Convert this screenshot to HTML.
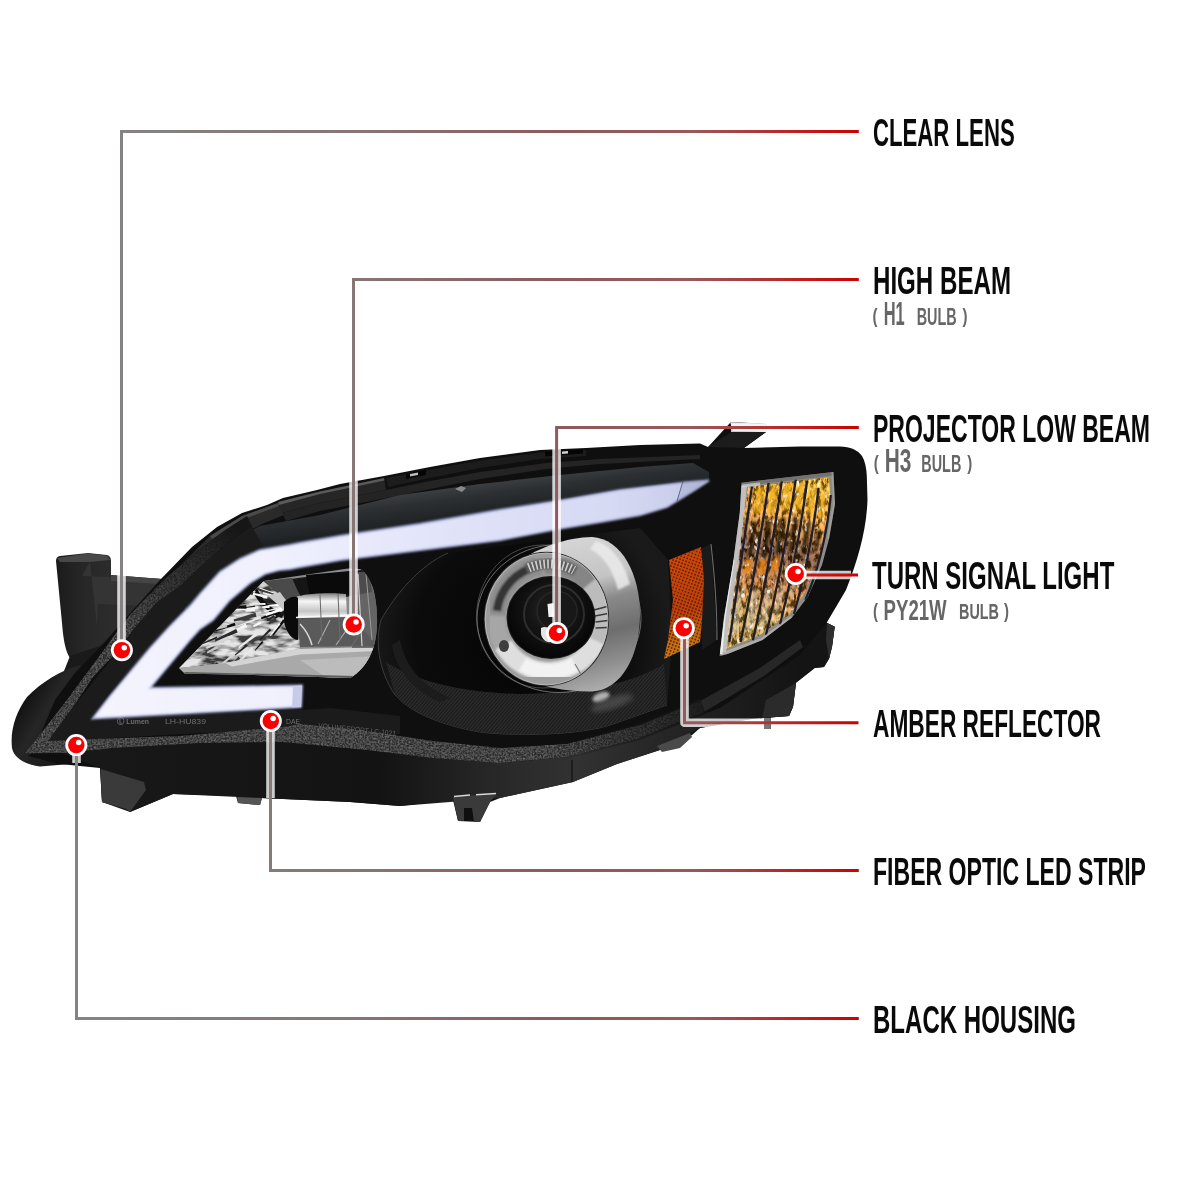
<!DOCTYPE html>
<html><head><meta charset="utf-8">
<style>
html,body{margin:0;padding:0;background:#fff;}
body{width:1200px;height:1200px;overflow:hidden;font-family:"Liberation Sans",sans-serif;}
svg{display:block;}
.t{font-family:"Liberation Sans",sans-serif;font-weight:bold;fill:#0a0a0a;}
.s{font-family:"Liberation Sans",sans-serif;font-weight:bold;fill:#666;}
</style></head><body>
<svg width="1200" height="1200" viewBox="0 0 1200 1200">
<defs>
<linearGradient id="lg" gradientUnits="userSpaceOnUse" x1="120" y1="0" x2="859" y2="0">
<stop offset="0" stop-color="#858282"/><stop offset="0.315" stop-color="#877675"/><stop offset="0.59" stop-color="#8d5a5d"/><stop offset="0.77" stop-color="#9a585c"/><stop offset="0.853" stop-color="#aa3c3e"/><stop offset="0.92" stop-color="#c01e1e"/><stop offset="1" stop-color="#cf0000"/>
</linearGradient>
<g id="d"><circle r="11" fill="#fff"/><circle r="8.250" fill="#fa0000"/><circle cx="2.350" cy="-2.500" r="2.750" fill="#fff"/></g>
<filter id="noop" x="-2%" y="-20%" width="104%" height="140%"><feOffset dx="0" dy="0"/></filter>
</defs>
<!--HEADLIGHT-->
<g id="headlight">
<defs>
<filter id="b05" x="-5%" y="-5%" width="110%" height="110%"><feGaussianBlur stdDeviation="0.45"/></filter>
<filter id="b1" x="-5%" y="-5%" width="110%" height="110%"><feGaussianBlur stdDeviation="0.8"/></filter>
<filter id="b2" x="-10%" y="-10%" width="120%" height="120%"><feGaussianBlur stdDeviation="1.6"/></filter>
<filter id="b3" x="-10%" y="-10%" width="120%" height="120%"><feGaussianBlur stdDeviation="2.5"/></filter>
<filter id="b4" x="-20%" y="-20%" width="140%" height="140%"><feGaussianBlur stdDeviation="4"/></filter>
<filter id="b8" x="-30%" y="-30%" width="160%" height="160%"><feGaussianBlur stdDeviation="8"/></filter>
<filter id="noise" x="0" y="0" width="100%" height="100%"><feTurbulence type="fractalNoise" baseFrequency="0.55" numOctaves="2" seed="3" result="n"/><feColorMatrix in="n" type="matrix" values="0 0 0 0 0.36  0 0 0 0 0.36  0 0 0 0 0.36  0.4 0.4 0.4 0 -0.5" result="m"/><feComposite in="m" in2="SourceGraphic" operator="in" result="c"/><feMerge><feMergeNode in="SourceGraphic"/><feMergeNode in="c"/></feMerge></filter>
<filter id="sparkle" x="0" y="0" width="100%" height="100%"><feTurbulence type="fractalNoise" baseFrequency="0.28 0.13" numOctaves="3" seed="11" result="n"/><feColorMatrix in="n" type="matrix" values="3.4 0 0 0 -1.2  3.4 0 0 0 -1.2  3.4 0 0 0 -1.2  0 0 0 0 1" result="g"/><feComposite in="SourceGraphic" in2="g" operator="arithmetic" k1="1.5" k2="0.22" k3="0.1" k4="0" result="m"/><feComposite in="m" in2="SourceGraphic" operator="in"/></filter>
<filter id="spk" x="0" y="0" width="100%" height="100%"><feTurbulence type="fractalNoise" baseFrequency="0.24 0.16" numOctaves="2" seed="4" result="n"/><feColorMatrix in="n" type="matrix" values="0 0 0 0 1  0 0 0 0 1  0 0 0 0 0.96  6 0 0 0 -3.75" result="g"/><feComposite in="g" in2="SourceGraphic" operator="in"/></filter>
<filter id="facet" x="0" y="0" width="100%" height="100%"><feTurbulence type="fractalNoise" baseFrequency="0.05 0.14" numOctaves="3" seed="5" result="n"/><feColorMatrix in="n" type="matrix" values="3.2 0 0 0 -1.05  3.2 0 0 0 -1.05  3.2 0 0 0 -1.05  0 0 0 0 1" result="g"/><feComposite in="SourceGraphic" in2="g" operator="arithmetic" k1="1.5" k2="0.15" k3="0.25" k4="0" result="m"/><feComposite in="m" in2="SourceGraphic" operator="in"/></filter>
<linearGradient id="rimg" gradientUnits="userSpaceOnUse" x1="400" y1="495" x2="404" y2="525"><stop offset="0" stop-color="#3a3e40"/><stop offset="0.35" stop-color="#2c3033"/><stop offset="1" stop-color="#1e2225"/></linearGradient>
<linearGradient id="ledh" gradientUnits="userSpaceOnUse" x1="90" y1="0" x2="710" y2="0"><stop offset="0" stop-color="#f4f4fe"/><stop offset="0.3" stop-color="#f0f1fd"/><stop offset="0.55" stop-color="#e2e4f9"/><stop offset="0.85" stop-color="#d6d9f3"/><stop offset="1" stop-color="#c4c8e6"/></linearGradient>
<pattern id="carbon" patternUnits="userSpaceOnUse" width="2.600" height="2.600" patternTransform="rotate(-50)"><rect width="2.600" height="1.200" fill="#000" fill-opacity="0.45"/></pattern>
<linearGradient id="bandfade" gradientUnits="userSpaceOnUse" x1="125" y1="635" x2="235" y2="525"><stop offset="0" stop-color="#181818" stop-opacity="0"/><stop offset="0.35" stop-color="#181818" stop-opacity="0.4"/><stop offset="0.7" stop-color="#181818" stop-opacity="0.7"/><stop offset="1" stop-color="#161616" stop-opacity="1"/></linearGradient>
<linearGradient id="bandfade2" gradientUnits="userSpaceOnUse" x1="550" y1="0" x2="700" y2="0"><stop offset="0" stop-color="#161616" stop-opacity="0"/><stop offset="0.5" stop-color="#161616" stop-opacity="0.45"/><stop offset="1" stop-color="#161616" stop-opacity="0.85"/></linearGradient>
<linearGradient id="bumpg" gradientUnits="userSpaceOnUse" x1="12" y1="700" x2="85" y2="745"><stop offset="0" stop-color="#0a0a0a"/><stop offset="0.4" stop-color="#262626"/><stop offset="0.75" stop-color="#1c1c1c"/><stop offset="1" stop-color="#0c0c0c"/></linearGradient>
<linearGradient id="brk" gradientUnits="userSpaceOnUse" x1="56" y1="0" x2="112" y2="0"><stop offset="0" stop-color="#1b1b1b"/><stop offset="0.5" stop-color="#272727"/><stop offset="1" stop-color="#2c2c2c"/></linearGradient>
<linearGradient id="lowh" gradientUnits="userSpaceOnUse" x1="100" y1="0" x2="800" y2="0"><stop offset="0" stop-color="#181818"/><stop offset="0.4" stop-color="#131313"/><stop offset="0.55" stop-color="#262626"/><stop offset="0.68" stop-color="#323232"/><stop offset="0.8" stop-color="#262626"/><stop offset="1" stop-color="#141414"/></linearGradient>
<radialGradient id="bowl" gradientUnits="userSpaceOnUse" cx="520" cy="640" r="150"><stop offset="0" stop-color="#050505"/><stop offset="0.7" stop-color="#0b0b0b"/><stop offset="1" stop-color="#1a1a1a"/></radialGradient>
<linearGradient id="shroud" gradientUnits="userSpaceOnUse" x1="585" y1="535" x2="625" y2="690"><stop offset="0" stop-color="#d5d5d5"/><stop offset="0.28" stop-color="#c4c4c4"/><stop offset="0.42" stop-color="#8a8a8a"/><stop offset="0.62" stop-color="#6e6e6e"/><stop offset="0.8" stop-color="#8c8c8c"/><stop offset="1" stop-color="#b5b5b5"/></linearGradient>
<linearGradient id="ring" gradientUnits="userSpaceOnUse" x1="495" y1="565" x2="595" y2="675"><stop offset="0" stop-color="#8e8e8e"/><stop offset="0.12" stop-color="#4a4a4a"/><stop offset="0.3" stop-color="#6a6a6a"/><stop offset="0.5" stop-color="#a6a6a6"/><stop offset="0.75" stop-color="#cfcfcf"/><stop offset="1" stop-color="#e6e6e6"/></linearGradient>
<radialGradient id="lensg" gradientUnits="userSpaceOnUse" cx="552" cy="610" r="46"><stop offset="0" stop-color="#2a2a2a"/><stop offset="0.5" stop-color="#151515"/><stop offset="1" stop-color="#070707"/></radialGradient>
<linearGradient id="amber" gradientUnits="userSpaceOnUse" x1="668" y1="555" x2="695" y2="660"><stop offset="0" stop-color="#d24a08"/><stop offset="0.55" stop-color="#c0420a"/><stop offset="0.8" stop-color="#c8700f"/><stop offset="1" stop-color="#cc8a10"/></linearGradient>
<pattern id="mesh" patternUnits="userSpaceOnUse" width="3.2" height="3.2" patternTransform="rotate(20)"><circle cx="1.6" cy="1.6" r="0.95" fill="#4a1402" fill-opacity="0.8"/></pattern>
<linearGradient id="tsg" gradientUnits="userSpaceOnUse" x1="790" y1="475" x2="745" y2="655"><stop offset="0" stop-color="#e2a812"/><stop offset="0.22" stop-color="#d08a10"/><stop offset="0.42" stop-color="#6a3c0c"/><stop offset="0.6" stop-color="#a8660e"/><stop offset="0.8" stop-color="#b08a38"/><stop offset="1" stop-color="#b89440"/></linearGradient>
<linearGradient id="chrome" gradientUnits="userSpaceOnUse" x1="200" y1="590" x2="300" y2="680"><stop offset="0" stop-color="#444"/><stop offset="0.4" stop-color="#777"/><stop offset="0.7" stop-color="#9a9a9a"/><stop offset="1" stop-color="#b8b8b8"/></linearGradient>
<linearGradient id="cap" gradientUnits="userSpaceOnUse" x1="0" y1="594" x2="0" y2="642"><stop offset="0" stop-color="#8a8a8a"/><stop offset="0.15" stop-color="#f6f6f6"/><stop offset="0.36" stop-color="#c4c4c4"/><stop offset="0.47" stop-color="#ececec"/><stop offset="0.51" stop-color="#4e4e4e"/><stop offset="0.8" stop-color="#646464"/><stop offset="1" stop-color="#808080"/></linearGradient>
<clipPath id="hbclip"><path d="M179 668 L263.500 581 L348 568.500 L360 569 C366 572 370 580 373 588 C376 598 377.500 612 377 625 C376.500 638 374 648 370 656 C366 664 360 672 350 678 L243 674.600 L185 673.700 Z"/></clipPath>
<clipPath id="ringclip"><path clip-rule="evenodd" d="M485.0 619 a61.5 66 0 1 0 123.0 0 a61.5 66 0 1 0 -123.0 0 Z M507.5 617.5 a43.5 40.5 0 1 0 87.0 0 a43.5 40.5 0 1 0 -87.0 0 Z"/></clipPath>
<clipPath id="tsclip"><path d="M741.500 482.700 L833.400 472 L835 504 L829 539 L822 565 L808 596.500 L792 617.500 L762.500 640 L727.500 654 L719.600 656 L724 617.500 L732.800 565 L739.800 512.500 Z"/></clipPath>
</defs>

<!-- left mounting bracket -->
<path d="M56 561 Q56 556.500 60 556 L88 553 L107 555 Q111 556 111 561 L111 575 L162 579 L165 640 L100 648 L78 666 L70 658 Q64 650 62 623 Z" fill="url(#brk)"/>
<path d="M82 576 L162 579 L150 606 L98 604 L97 627 L90 562 Z" fill="#343434"/>
<path d="M111 575 L162 579 L160 584 L111 581Z" fill="#454545"/>
<path d="M57 558 L88 553.500 L107 555.500 L110 560 L90 562 L60 562Z" fill="#484848"/>

<path d="M100 646 L106 642 L80 674 L62 676 L70 656 Z" fill="#1a1a1a"/>
<!-- left bump -->
<path d="M80 665 C60 671 43 681 27 697 C16 712 10 730 12 748 C14 758 24 764 40 766.500 L70 764 L103 764 L110 700 Z" fill="url(#bumpg)"/>

<!-- main body silhouette -->
<path id="body" d="M33 752 L55 700 L75 673 L102 645 L133 610 L160 580 L192 547 L217 527 L242 513 L267 505 L283 498 L317 490 L340 484 L384 476 L430 467 L480 458 L540 450 L586 448 L640 445 L700 443.600 L708 447 L730 423 L730 422 L767 424 L766 432 L744 448 L800 446.500 L840 446.500 C850 446.800 858 450 862 456 C865 461 866.500 468 866.800 476 L867.500 500 C866.500 530 858 560 846 590 L826.700 622.700 L834.700 626.700 L832 646.700 L829 658.700 L824 667 L814.700 668 L796 682.700 L793 706.700 L789 716 L770.700 717.500 L770.700 729 L764 729 L764 718 L753 718.700 L700 728 L692 735 L660 750 L617 764 L573 782 L500 798 L490 802 L480 822 L458 821 L453 800 L400 806 L350 802 L262 798 L260 805 L238 803 L236 796 L173 794 L130 812 L126 809 L102 802 L100 768 L60 764 L28 756 Z" fill="#0f0f0f"/>

<!-- top housing ledges -->
<path d="M180 566 L210 536 L242 516 L278 503 L284 515 L262 524 L232 540 L200 566 L186 580 Z" fill="#2a2a2a"/>
<path d="M210 536 L242 516 L278 503 L279 506 L244 519 L212 539 Z" fill="#4a4a4a"/>
<path d="M278 502 L320 491.500 L380 479.500 L384 478 L386 490 L320 503 L282 513 Z" fill="#262626"/>
<path d="M278 502 L320 491.500 L384 478 L384.500 480.500 L320 494 L279 505 Z" fill="#5a5a5a"/>
<path d="M386 478 L430 469.500 L480 460.500 L540 452.500 L586 450 L586 456 L540 459 L480 468 L430 478 L388 487 Z" fill="#1c1c1c"/>
<path d="M282 513 L320 503 L386 490 L430 481 L480 472 L546 463 L600 459 L700 455 L700 459 L600 464 L546 469 L480 479 L430 489 L386 498 L320 511 L286 521 Z" fill="#242424"/>
<path d="M172 596 L200 566 L232 540 L260 526 L320 515 L400 495 L480 484 L560 475 L640 467 L693 463 L709 472 L709 479 L667 482 L620 488 L560 498 L500 510 L420 524 L340 536 L300 543 L290 545 L260 550 L240 559 L220 572 L200 594 L186 610 Z" fill="url(#rimg)"/>
<path d="M455 489 l6 -3 l5 2 l-4 4 z" fill="#8a8a8a"/>
<path d="M406 474 l20 -4 l0 5 l-20 4z" fill="#050505"/><path d="M410 474 l8 -1.500 l0 2.500 l-8 1.500z" fill="#bdbdbd"/>
<path d="M545 452 l38 -2.500 l0 4 l-38 3z" fill="#050505"/><path d="M562 451.500 l6 -0.400 l0 2.500 l-6 0.400z" fill="#cfcfcf"/>

<!-- mounting tab top -->
<path d="M730 422 L767 424 L766 432 L733 431 Z" fill="#cfcfcf"/>
<path d="M733 431 L766 432 L744 448 L708 447 Z" fill="#1c1c1c"/>

<!-- lower housing -->
<path d="M60 752 L200 740 L283 742 L367 750 L433 758 L500 763 L567 757 L640 738 L720 708 L800 655 L826.700 622.700 L834.700 626.700 L832 646.700 L829 658.700 L824 667 L814.700 668 L796 682.700 L793 706.700 L789 716 L753 718.700 L700 728 L660 750 L617 764 L573 782 L500 798 L400 806 L350 802 L173 794 L130 812 L102 802 L100 768 Z" fill="url(#lowh)"/>
<path d="M100.500 769 L144 782 L146 790 L130 812 L126 809 L102 802 Z" fill="#3a3a3a"/>
<path d="M827 623 L834.700 626.700 L832 646.700 L829 658.700 L826 640 Z" fill="#2e2e2e"/>
<path d="M796 683 L793 706.700 L789 716 L762 718 L766 700 Z" fill="#2b2b2b"/>
<rect x="764" y="718" width="6.700" height="11" fill="#777"/>
<path d="M572 760 V782" stroke="#0a0a0a" stroke-width="1"/>
<path d="M453 797 L497 793.500 L490 802 L480 822 L474 822 L472 808 L464 808 L464 821 L458 821 Z" fill="#3a3a3a"/>
<path d="M454 796.500 L470 795 M476 794.800 L496 793.500" stroke="#d8d8d8" stroke-width="1.6"/>
<path d="M237 797 L262 798 L260 805 L238 803 Z" fill="#555"/>

<!-- glossy lens border -->
<path d="M46.700 741.300 L73.300 706.700 L105.300 666.700 L150 607 L177 582 L200 561 L225 540 L250 523 L263 546 L240 556 L220 569 L200 591 L170 623 L130 669 L108 694 L90 718 L301 710 L330 708 L400 716 L400 734 L367 737 L283 730 L200 733 L100 738.700 Z" fill="#1b1b1b"/>
<!-- seal band -->
<path d="M25.300 753.300 L60 709 L92 666 L106 647 L121 626 L130 615 L142 602 L167 577 L200 550 L225 531 L247 517 L251 525 L227 543 L203 564 L181 585 L156 603 L136 626 L113 656 L93 677 L75 704 L48 741 L100 738.700 L180 736 L283 727 L300 724 L367 731 L433 741 L500 748 L567 744 L640 725 L700 701 L704 712 L640 738 L567 757 L500 763 L433 758 L367 750 L283 742 L200 743 L113 748 L64 753 Z" fill="#2e2e2e" filter="url(#noise)"/>
<path d="M700 701 L760 668 L800 640 L803 647 L764 676 L704 712 Z" fill="#272727"/>
<path d="M540 740 L567 742 L640 723 L700 699 L706 714 L640 740 L567 759 L540 762 Z" fill="url(#bandfade2)"/>
<path d="M657 746 L690 733 L692 737 L680 748 L662 752 Z" fill="#4a4a4a"/>
<path d="M118 628 L130 614 L142 601 L167 576 L200 549 L225 530 L247 516 L252 526 L227 544 L203 565 L181 586 L156 604 L136 627 L124 642 Z" fill="url(#bandfade)"/>
<g font-family="Liberation Sans, sans-serif" font-size="7.500" fill="#7d7d7d" opacity="0.85" filter="url(#b05)">
<text x="117" y="724" textLength="32" lengthAdjust="spacingAndGlyphs" font-weight="bold">Ⓛ Lumen</text>
<text x="165" y="723.500" textLength="41" lengthAdjust="spacingAndGlyphs">LH-HU839</text>
<text x="286" y="724" textLength="14" lengthAdjust="spacingAndGlyphs">DAE</text>
<text x="318" y="728" textLength="78" lengthAdjust="spacingAndGlyphs" transform="rotate(6 318 728)" fill="#6a6a6a">VOLUMESPORT LC-1021</text>
</g>

<!-- projector bowl -->
<path d="M448 553 C420 565 395 595 381 620 C375 640 378 670 395 695 C410 712 440 725 480 732 C510 736 580 736 613 724 L667 705 L672 640 L668 560 L640 528 Z" fill="url(#bowl)"/>
<path d="M448 553 C420 565 395 595 381 620 C375 640 378 670 395 695 C410 712 440 725 480 732 C510 736 580 736 613 724 L667 705" fill="none" stroke="#3c3c3c" stroke-width="1"/>
<path d="M386 662 C420 684 470 693 520 694 C580 693 630 685 664 664 L667 705 L613 724 C580 736 510 736 480 732 C440 725 410 712 395 695 Z" fill="#2d2d2d"/>
<path d="M386 662 C420 684 470 693 520 694 C580 693 630 685 664 664 L667 705 L613 724 C580 736 510 736 480 732 C440 725 410 712 395 695 Z" fill="url(#carbon)"/>
<path d="M400 640 C405 665 420 685 450 698 L440 702 C412 690 395 668 392 645 Z" fill="#1c1c1c"/>
<ellipse cx="601" cy="697" rx="9" ry="4.500" fill="#b0b0b0" filter="url(#b2)" transform="rotate(-20 601 697)"/>
<ellipse cx="612" cy="703" rx="22" ry="6" fill="#555" filter="url(#b3)" transform="rotate(-18 612 703)" opacity="0.7"/>

<!-- LED strip -->
<g filter="url(#b1)">
<path d="M92.500 718.500 L110 696 L130 672 L150 648 L170 626 L190 606 L200 594 L220 572 L240 559 L260 550 L290 545 L300 543 L340 536 L420 524 L500 510 L560 500.500 L620 490 L680 483 L709 480.500 L693 491 L667 507 L640 515 L600 522 L560 528.700 L500 540 L420 550 L340 560 L300 567 L290 569 L280 570 L265 574 L250 583 L230 600 L213 620 L200 629 L190 640 L170 664 L150 688 L302 685.500 L301 707 Z" fill="url(#ledh)" stroke="#b4bbe6" stroke-width="1.8"/>
</g>
<path d="M302 685.500 L301 707 L292 707.500 L293 686 Z" fill="#c8cbe8"/>
<path d="M683 481 L709 479.500 L693 491 L677 501 Z" fill="#8890b8" fill-opacity="0.28"/><path d="M683 481 L677 501" stroke="#4a5070" stroke-width="0.8"/>

<!-- high beam window -->
<g clip-path="url(#hbclip)">
<rect x="170" y="560" width="220" height="130" fill="#8a8a8a"/>
<!-- facet texture on left -->
<path d="M179 668 L263.500 581 L300 578 L300 650 L225 664 Z" fill="#9a9a9a" filter="url(#facet)"/>
<!-- dark upper region -->
<path d="M290 579 L362 570 L369 572 L372 592 L346 597 L300 596 Z" fill="#151515"/>
<path d="M306 575 L350 571 L352 594 L310 596 Z" fill="#0a0a0a"/>
<path d="M263 581 L292 578 L300 596 L286 600 Z" fill="#4a4a4a"/>
<!-- streaks -->
<g filter="url(#b05)">
<path d="M257 588 C262 600 272 610 284 613 L282 618 C268 614 258 602 253 592 Z" fill="#0e0e0e"/>
<path d="M234.7 622.7 L211.6 631.1 L212.1 632.4 L235.6 625.4 Z" fill="#111111"/>
<path d="M267.5 595.7 L245.7 591.1 L245.3 592.5 L266.8 598.4 Z" fill="#fafafa"/>
<path d="M275.6 600.0 L262.9 598.5 L262.8 599.4 L275.3 601.8 Z" fill="#222222"/>
<path d="M228.7 607.2 L214.2 608.8 L214.3 610.2 L228.9 609.9 Z" fill="#222222"/>
<path d="M269.3 605.0 L262.1 606.4 L262.3 607.9 L269.6 608.0 Z" fill="#f6f6f6"/>
<path d="M235.8 675.9 L225.0 690.8 L226.4 692.0 L238.6 678.2 Z" fill="#2a2a2a"/>
<path d="M210.1 632.2 L194.5 638.5 L195.0 640.0 L211.2 635.3 Z" fill="#3a3a3a"/>
<path d="M283.1 619.2 L272.1 635.3 L273.2 636.1 L285.3 620.8 Z" fill="#111111"/>
<path d="M214.6 565.3 L195.7 557.3 L195.2 558.4 L213.6 567.5 Z" fill="#1a1a1a"/>
<path d="M281.4 606.5 L264.3 611.1 L264.5 612.0 L281.9 608.4 Z" fill="#eaeaea"/>
<path d="M249.7 591.5 L224.9 586.8 L224.5 588.6 L248.8 595.2 Z" fill="#f6f6f6"/>
<path d="M216.9 662.3 L210.9 667.6 L211.7 668.6 L218.5 664.3 Z" fill="#222222"/>
<path d="M278.0 609.6 L260.8 617.7 L261.5 619.3 L279.3 612.9 Z" fill="#0e0e0e"/>
<path d="M259.0 621.6 L252.9 625.6 L253.5 626.8 L260.3 624.0 Z" fill="#eaeaea"/>
<path d="M238.5 656.4 L233.8 661.8 L234.7 662.9 L240.4 658.4 Z" fill="#3a3a3a"/>
<path d="M246.3 644.3 L234.7 654.7 L235.4 655.5 L247.6 645.9 Z" fill="#222222"/>
<path d="M245.5 596.7 L231.3 595.6 L231.1 596.9 L245.2 599.3 Z" fill="#1a1a1a"/>
<path d="M240.4 677.8 L226.0 698.9 L227.3 699.8 L242.9 679.6 Z" fill="#f6f6f6"/>
<path d="M256.3 632.2 L238.4 647.0 L239.3 648.3 L258.3 634.8 Z" fill="#eaeaea"/>
<path d="M279.1 623.3 L269.7 635.5 L270.3 636.0 L280.4 624.3 Z" fill="#fafafa"/>
<path d="M260.6 621.8 L253.4 626.1 L253.9 626.9 L261.5 623.4 Z" fill="#fafafa"/>
<path d="M282.5 603.3 L268.6 605.0 L268.7 606.6 L282.7 606.5 Z" fill="#ffffff"/>
<path d="M243.8 581.1 L226.8 575.3 L226.1 577.1 L242.4 584.7 Z" fill="#ffffff"/>
<path d="M255.1 605.6 L243.9 607.3 L244.0 608.8 L255.3 608.8 Z" fill="#222222"/>
<path d="M232.6 654.0 L213.6 670.1 L214.2 670.9 L233.9 655.7 Z" fill="#d6d6d6"/>
<path d="M230.7 584.7 L216.1 581.1 L215.8 582.0 L230.2 586.5 Z" fill="#f6f6f6"/>
<path d="M261.0 611.1 L240.6 616.6 L240.9 617.9 L261.6 613.6 Z" fill="#d6d6d6"/>
<path d="M230.0 590.0 L217.5 588.1 L217.3 589.1 L229.6 592.0 Z" fill="#222222"/>
<path d="M274.8 593.1 L259.7 587.5 L259.0 589.1 L273.5 596.2 Z" fill="#fafafa"/>
<path d="M258.0 606.6 L233.7 609.4 L233.8 610.5 L258.2 608.7 Z" fill="#f6f6f6"/>
<path d="M262.1 641.1 L254.6 650.2 L255.3 650.7 L263.4 642.2 Z" fill="#0e0e0e"/>
<path d="M236.3 630.3 L227.9 634.8 L228.5 636.0 L237.4 632.6 Z" fill="#3a3a3a"/>
<path d="M229.6 573.5 L210.8 566.2 L210.2 567.6 L228.3 576.3 Z" fill="#ffffff"/>
<path d="M198.8 615.4 L183.0 618.0 L183.1 619.3 L199.1 617.9 Z" fill="#0e0e0e"/>
<path d="M283.6 597.4 L265.6 590.9 L265.1 592.2 L282.5 600.1 Z" fill="#222222"/>
<path d="M273.8 614.9 L266.8 619.6 L267.5 620.9 L275.2 617.3 Z" fill="#2a2a2a"/>
<path d="M200.7 595.2 L179.7 594.5 L179.5 596.3 L200.4 598.7 Z" fill="#2a2a2a"/>
<path d="M227.2 635.7 L206.0 647.2 L206.9 649.0 L228.9 639.2 Z" fill="#d6d6d6"/>
<path d="M282.4 598.0 L266.8 592.6 L266.5 593.4 L281.8 599.6 Z" fill="#c4c4c4"/>
<path d="M235.1 629.9 L218.3 637.8 L218.6 638.6 L235.8 631.5 Z" fill="#c4c4c4"/>
<path d="M269.7 628.5 L259.5 639.4 L260.4 640.3 L271.4 630.2 Z" fill="#222222"/>
<path d="M241.5 601.7 L225.7 602.2 L225.6 603.7 L241.4 604.7 Z" fill="#111111"/>
<path d="M281.4 601.2 L263.0 600.2 L262.9 601.7 L281.2 604.1 Z" fill="#1a1a1a"/>
<path d="M275.7 594.2 L255.1 586.9 L254.5 588.4 L274.5 597.2 Z" fill="#3a3a3a"/>
<path d="M284.2 609.9 L274.1 617.6 L275.0 619.0 L286.1 612.7 Z" fill="#1a1a1a"/>
<path d="M215.6 620.6 L202.6 624.6 L203.1 626.6 L216.5 624.5 Z" fill="#3a3a3a"/>
<path d="M255.6 591.0 L236.6 585.9 L236.3 586.9 L255.0 593.0 Z" fill="#d6d6d6"/>
<path d="M215.1 589.4 L204.4 588.1 L204.2 589.2 L214.8 591.5 Z" fill="#1a1a1a"/>
<path d="M254.8 608.3 L245.4 610.3 L245.6 611.8 L255.2 611.2 Z" fill="#f6f6f6"/>
<path d="M195.8 599.2 L183.5 599.2 L183.5 600.2 L195.7 601.2 Z" fill="#3a3a3a"/>
<path d="M201.7 631.0 L180.1 638.2 L180.4 639.5 L202.4 633.5 Z" fill="#111111"/>
<path d="M255.5 612.7 L233.6 619.6 L234.2 621.6 L256.6 616.7 Z" fill="#3a3a3a"/>
<path d="M217.1 645.4 L206.7 652.0 L207.5 653.4 L218.6 648.2 Z" fill="#c4c4c4"/>
<path d="M231.0 599.9 L218.1 600.4 L218.1 602.2 L230.9 603.6 Z" fill="#f6f6f6"/>
<path d="M246.3 605.1 L235.8 606.6 L235.9 608.4 L246.5 608.7 Z" fill="#0e0e0e"/>
<path d="M274.6 617.2 L268.6 622.4 L269.5 623.7 L276.4 619.8 Z" fill="#3a3a3a"/>
<path d="M251.7 647.1 L238.7 661.2 L239.6 662.1 L253.5 648.9 Z" fill="#eaeaea"/>
<path d="M265.5 602.9 L249.4 603.4 L249.4 604.5 L265.5 605.0 Z" fill="#f6f6f6"/>
<path d="M234.7 596.8 L227.0 596.6 L226.9 597.7 L234.5 599.0 Z" fill="#2a2a2a"/>
<path d="M197.5 621.7 L181.5 625.9 L181.9 628.0 L198.3 625.8 Z" fill="#ffffff"/>
<path d="M216.8 636.5 L194.6 646.4 L195.0 647.2 L217.5 638.2 Z" fill="#222222"/>
<path d="M245.7 623.6 L236.3 628.7 L237.0 630.5 L247.3 627.2 Z" fill="#f6f6f6"/>
<path d="M236.1 629.0 L214.8 639.5 L215.6 641.2 L237.6 632.3 Z" fill="#2a2a2a"/>
<path d="M226.2 624.0 L216.1 628.1 L216.6 629.7 L227.3 627.3 Z" fill="#c4c4c4"/>
<path d="M274.2 595.1 L263.0 592.0 L262.6 593.2 L273.4 597.6 Z" fill="#eaeaea"/>
<path d="M239.6 578.5 L219.1 570.3 L218.6 571.5 L238.6 580.7 Z" fill="#222222"/>
<path d="M253.2 592.2 L244.7 590.9 L244.3 592.2 L252.5 594.9 Z" fill="#111111"/>
<path d="M260.4 616.3 L237.7 625.4 L238.1 626.5 L261.2 618.3 Z" fill="#eaeaea"/>
<path d="M281.1 607.7 L265.3 614.3 L265.9 615.9 L282.2 610.8 Z" fill="#ffffff"/>
<path d="M195.1 633.0 L172.2 640.7 L172.6 642.1 L195.9 635.8 Z" fill="#c4c4c4"/>
<path d="M268 596 L280 592 L290 606 L284 610 Z" fill="#c8c8c8"/>
</g>
<!-- lower carbon band -->
<path d="M179 668 L225 663 L298 649 L377 647 L377 680 L179 680 Z" fill="#a9a9a9"/>
<path d="M225 663 L298 649 L377 647 L377 651 L300 654.500 L232 666.500 Z" fill="#d4d4d4"/>
<path d="M300 660 L377 656 L377 680 L330 680 Z" fill="#bcbcbc"/>
<path d="M185 672 L355 676 L357 679 L183 674Z" fill="#5c5c5c"/>
<!-- bulb cap -->
<path d="M296 598 C296 594 330 592 346 594 L348 640 C330 644 300 642 297 638 Z" fill="url(#cap)"/>
<path d="M284 602 C290 596 296 596 298 598 L298 640 C292 640 286 632 284 622 Z" fill="#0a0a0a"/>
<path d="M298 619 L347 617 L374 640 L374 646 L300 647 Z" fill="#5a5a5a"/>
<path d="M296 617.500 L350 615" stroke="#f8f8f8" stroke-width="1.400"/>
<path d="M318 644 L330 620 M336 645 L352 622 M352 646 L362 630" stroke="#a8a8a8" stroke-width="1.200"/>
<path d="M300 624 C306 630 310 638 312 645" stroke="#d8d8d8" stroke-width="1.500" fill="none"/>
<path d="M320 595 L322 641 M338 594 L340 641" stroke="#6a6a6a" stroke-width="1"/>
<!-- right glass panes -->
<path d="M350 572 L369 572 L377 606 L377 648 L352 648 Z" fill="#5a5a5a" fill-opacity="0.8"/>
<path d="M358 574 L362 646" stroke="#cfcfcf" stroke-width="1.2"/>
<path d="M366 574 L372 640" stroke="#9a9a9a" stroke-width="1"/>
</g>

<!-- projector shroud + ring -->
<ellipse cx="559" cy="618.500" rx="82" ry="74" fill="none" stroke="#8a8a8a" stroke-width="1" stroke-opacity="0.75"/>
<ellipse cx="543" cy="616.500" rx="66.500" ry="71.500" fill="none" stroke="#7a7a7a" stroke-width="0.9" stroke-opacity="0.6"/>
<path d="M512 566 C535 548 568 537 592 537 C622 538.500 640 575 640 614 C640 655 622 690 592 691.500 C568 692 540 687 518 676 Z" fill="url(#shroud)"/>
<path d="M596 541 C612 546 624 562 630 584 L618 590 C613 570 604 556 590 549 Z" fill="#ececec" filter="url(#b1)" opacity="0.85"/>
<!-- front ring -->
<ellipse cx="546.5" cy="619" rx="62.7" ry="67.2" fill="#2a2a2a"/>
<g clip-path="url(#ringclip)">
<rect x="480" y="548" width="135" height="142" fill="#9c9c9c"/>
<g fill="none" filter="url(#b1)">
<path d="M598.1 636.5 A52.5 53.2 0 0 1 503.3 644.9" stroke="#dedede" stroke-width="19"/>
<path d="M575.0 664.4 A52.5 53.2 0 0 1 522.5 664.4" stroke="#f2f2f2" stroke-width="15"/>
<path d="M589.0 584.0 A52.5 53.2 0 0 1 596.3 640.8" stroke="#bcbcbc" stroke-width="18"/>
<path d="M544.2 565.2 A52.5 53.2 0 0 1 589.0 584.0" stroke="#858585" stroke-width="18"/>
<path d="M503.3 644.9 A52.5 53.2 0 0 1 496.4 613.6" stroke="#a6a6a6" stroke-width="18"/>
<path d="M496.3 615.5 A52.5 53.2 0 0 1 541.4 565.5" stroke="#8e8e8e" stroke-width="19"/>
<path d="M496.8 610.8 A52.5 53.2 0 0 1 537.8 566.2" stroke="#343434" stroke-width="8.500"/>
<path d="M526.1 569.0 A53.6 54.3 0 0 1 575.5 571.2" stroke="#5c5c5c" stroke-width="10"/>
</g>
<path d="M528.7 567.9 A53.6 54.3 0 0 1 573.9 570.3" stroke="#cfcfcf" stroke-width="9" fill="none" stroke-dasharray="1.600 2.200"/>
<path d="M594 610 l13 -3.500 M595 616 l13 -2.500 M595.500 622 l13 -1.500 M595.500 628 l12 -0.500" stroke="#3a3a3a" stroke-width="1.600"/>
<ellipse cx="504" cy="646" rx="5" ry="6" fill="#3c3c3c" filter="url(#b05)"/>
<path d="M575 664 L582 676" stroke="#7a7a7a" stroke-width="1.200"/>
</g>
<ellipse cx="546.5" cy="619" rx="61.5" ry="66" fill="none" stroke="#d0d0d0" stroke-width="1" stroke-opacity="0.7"/>
<ellipse cx="551" cy="617.5" rx="44.5" ry="41.5" fill="#1b1b1b"/>
<ellipse cx="551" cy="617.5" rx="43.5" ry="40.5" fill="url(#lensg)"/>
<ellipse cx="554" cy="614" rx="30" ry="29" fill="none" stroke="#2e2e2e" stroke-width="2"/>
<ellipse cx="557" cy="611" rx="20" ry="19.500" fill="#181818" stroke="#262626" stroke-width="1.500"/>
<path d="M547.500 604 L553.500 603 L554 617 L548.500 617 Z" fill="#f2f2f2" filter="url(#b05)"/>
<path d="M541 628 C544 626 549 627 550 630 L551 642 C546 643 542 639 541 634 Z" fill="#e4e4e4" filter="url(#b05)"/>


<!-- amber reflector -->
<path d="M711 544 L717 640 L702 650 L702 548 Z" fill="#1a1a1a"/>
<path d="M711 544 C715 580 717 610 717 640" stroke="#6e7478" stroke-width="1" fill="none"/>
<path d="M669 560 L701 547 L704 580 L702 620 L700 642 L664 659 L668 640 L673 600 Z" fill="url(#amber)"/>
<path d="M669 560 L701 547 L704 580 L702 620 L700 642 L664 659 L668 640 L673 600 Z" fill="url(#mesh)"/>

<!-- turn signal -->
<g clip-path="url(#tsclip)">
<rect x="715" y="468" width="125" height="192" fill="#8e8b85"/>
<g filter="url(#sparkle)">
<path d="M748 487 L829 477 L831 504 L825 539 L817 565 L804 595 L789 615 L760 635 L726 649 L729 617 L737 565 L744 512 Z" fill="url(#tsg)"/>
</g>
<g filter="url(#b1)">
<path d="M757 488 l7 -1 l-3 26 l-7 1Z M771 486 l7 -1 l-3 28 l-7 1Z M785 484 l7 -1 l-3 26 l-7 1Z M798 483 l6 0 l-3 26 l-6 1Z M810 486 l5 1 l-3 26 l-5 0Z M821 493 l5 2 l-3 24 l-4 0Z" fill="#e8aa10" fill-opacity="0.7"/>
<path d="M752 522 l5 -1 l-5 36 l-5 0Z M766 520 l6 -1 l-5 38 l-6 2Z M780 518 l6 -1 l-5 36 l-6 2Z M793 517 l6 0 l-5 34 l-6 2Z M806 522 l5 0 l-5 30 l-5 2Z M818 530 l4 1 l-5 20 l-4 2Z" fill="#1c1008" fill-opacity="0.75"/>
<path d="M746 560 l6 -1 l-2 14 l-6 1Z M760 560 l6 -1 l-2 14 l-6 1Z M774 558 l6 -1 l-3 14 l-6 1Z" fill="#f0860c" fill-opacity="0.85"/>
<path d="M738 592 l5 -1 l-5 40 l-5 3Z M752 590 l6 -1 l-6 40 l-6 4Z M766 588 l6 -1 l-6 36 l-6 4Z M780 586 l5 -1 l-6 26 l-5 5Z M793 582 l5 -2 l-6 16 l-5 6Z" fill="#d8d2c4" fill-opacity="0.45"/>
</g>
<path d="M748 487 L829 477 L831 504 L825 539 L817 565 L804 595 L789 615 L760 635 L726 649 L729 617 L737 565 L744 512 Z" fill="#fff" filter="url(#spk)" opacity="0.75"/>
<g fill="none" stroke="#1e1e2a" stroke-width="2.300">
<path d="M752 486.300 Q740 570 729.300 642"/>
<path d="M768.600 482.800 Q757 565 740.600 642"/>
<path d="M781.800 481 Q770 565 752.900 640.300"/>
<path d="M795.800 479.300 Q783 565 766 635"/>
<path d="M807.100 481 Q797 558 780 624.500"/>
<path d="M818.500 488 Q811 554.500 794 614"/>
<path d="M830.800 495 Q825 554.500 805.400 600"/>
</g>
<path d="M741.500 482.700 L833.400 472" fill="none" stroke="#6a6a6a" stroke-width="7" stroke-opacity="0.75"/>
<path d="M833.400 472 L835 504 L829 539" fill="none" stroke="#b0b0b0" stroke-width="4" stroke-opacity="0.5"/>
<path d="M742 486 L760 484" stroke="#d8d8d8" stroke-width="3" stroke-opacity="0.7" fill="none"/>
<path d="M744 486 L736 560 L727 620 L723 652" fill="none" stroke="#d6d6d6" stroke-width="6" stroke-opacity="0.7"/>
<path d="M721 655 L762 640 L792 617.500" fill="none" stroke="#c8c8c8" stroke-width="4" stroke-opacity="0.55"/>
<path d="M733 560 L724 617 L721 654" fill="none" stroke="#fff" stroke-width="3" stroke-opacity="0.7"/>
</g>
</g>
<!--/HEADLIGHT-->
<!--CALLOUTS-->
<g id="halo" fill="none" stroke="#fff" stroke-opacity="0.78" stroke-width="8.600" stroke-linejoin="round">
<path d="M121.500 575V650"/>
<path d="M353.500 481V623"/>
<path d="M556.600 449V631"/>
<path d="M684.500 628V722.800H760"/>
<path d="M270.500 721V798"/>
<path d="M76.500 746V763"/>
<path d="M796 575H851"/>
<path d="M731 427.600H767"/>
</g>
<g id="lines" fill="none" stroke="url(#lg)" stroke-width="3">
<path d="M858.800 131.500H121.500V650"/>
<path d="M858.800 279.600H353.500V623"/>
<path d="M858.800 427.600H556.600V631"/>
<path d="M858 575H796"/>
<path d="M858.500 722.800H684.500V628"/>
<path d="M858.800 870.500H270.500V721"/>
<path d="M858.800 1018.500H76.500V746"/>
</g>
<use href="#d" x="121.900" y="650.200"/>
<use href="#d" x="353.700" y="624.500"/>
<use href="#d" x="557" y="633"/>
<use href="#d" x="795.700" y="574"/>
<use href="#d" x="683.800" y="628.200"/>
<use href="#d" x="270.800" y="721"/>
<use href="#d" x="76.300" y="745.100"/>
<g id="text" filter="url(#noop)">
<text class="t" x="873" y="145.800" font-size="39.500" textLength="141.700" lengthAdjust="spacingAndGlyphs">CLEAR LENS</text>
<text class="t" x="873" y="293.800" font-size="39.500" textLength="138" lengthAdjust="spacingAndGlyphs">HIGH BEAM</text>
<text class="t" x="873" y="441.800" font-size="39.500" textLength="277" lengthAdjust="spacingAndGlyphs">PROJECTOR LOW BEAM</text>
<text class="t" x="872" y="589.400" font-size="39.500" textLength="242.300" lengthAdjust="spacingAndGlyphs">TURN SIGNAL LIGHT</text>
<text class="t" x="873" y="736.800" font-size="39.500" textLength="228" lengthAdjust="spacingAndGlyphs">AMBER REFLECTOR</text>
<text class="t" x="873" y="884.800" font-size="39.500" textLength="273" lengthAdjust="spacingAndGlyphs">FIBER OPTIC LED STRIP</text>
<text class="t" x="873" y="1032.800" font-size="39.500" textLength="203" lengthAdjust="spacingAndGlyphs">BLACK HOUSING</text>
</g>
<g id="subs" filter="url(#noop)">
<text class="s" x="872.500" y="323" font-size="21" textLength="5" lengthAdjust="spacingAndGlyphs">(</text>
<text class="s" x="883.700" y="324.700" font-size="33" textLength="21" lengthAdjust="spacingAndGlyphs">H1</text>
<text class="s" x="916.700" y="324.500" font-size="23.500" textLength="40" lengthAdjust="spacingAndGlyphs">BULB</text>
<text class="s" x="962.500" y="323" font-size="21" textLength="5" lengthAdjust="spacingAndGlyphs">)</text>
<text class="s" x="873.800" y="470.300" font-size="21" textLength="5" lengthAdjust="spacingAndGlyphs">(</text>
<text class="s" x="884.700" y="472" font-size="33" textLength="26.600" lengthAdjust="spacingAndGlyphs">H3</text>
<text class="s" x="921.300" y="471.800" font-size="23.500" textLength="40" lengthAdjust="spacingAndGlyphs">BULB</text>
<text class="s" x="967.300" y="470.300" font-size="21" textLength="5" lengthAdjust="spacingAndGlyphs">)</text>
<text class="s" x="873" y="618" font-size="21" textLength="5" lengthAdjust="spacingAndGlyphs">(</text>
<text class="s" x="883.600" y="619.700" font-size="29.500" textLength="63" lengthAdjust="spacingAndGlyphs">PY21W</text>
<text class="s" x="959" y="619.400" font-size="22.500" textLength="40" lengthAdjust="spacingAndGlyphs">BULB</text>
<text class="s" x="1004" y="618" font-size="21" textLength="5" lengthAdjust="spacingAndGlyphs">)</text>
</g>
<!--/CALLOUTS-->
</svg>
</body></html>
